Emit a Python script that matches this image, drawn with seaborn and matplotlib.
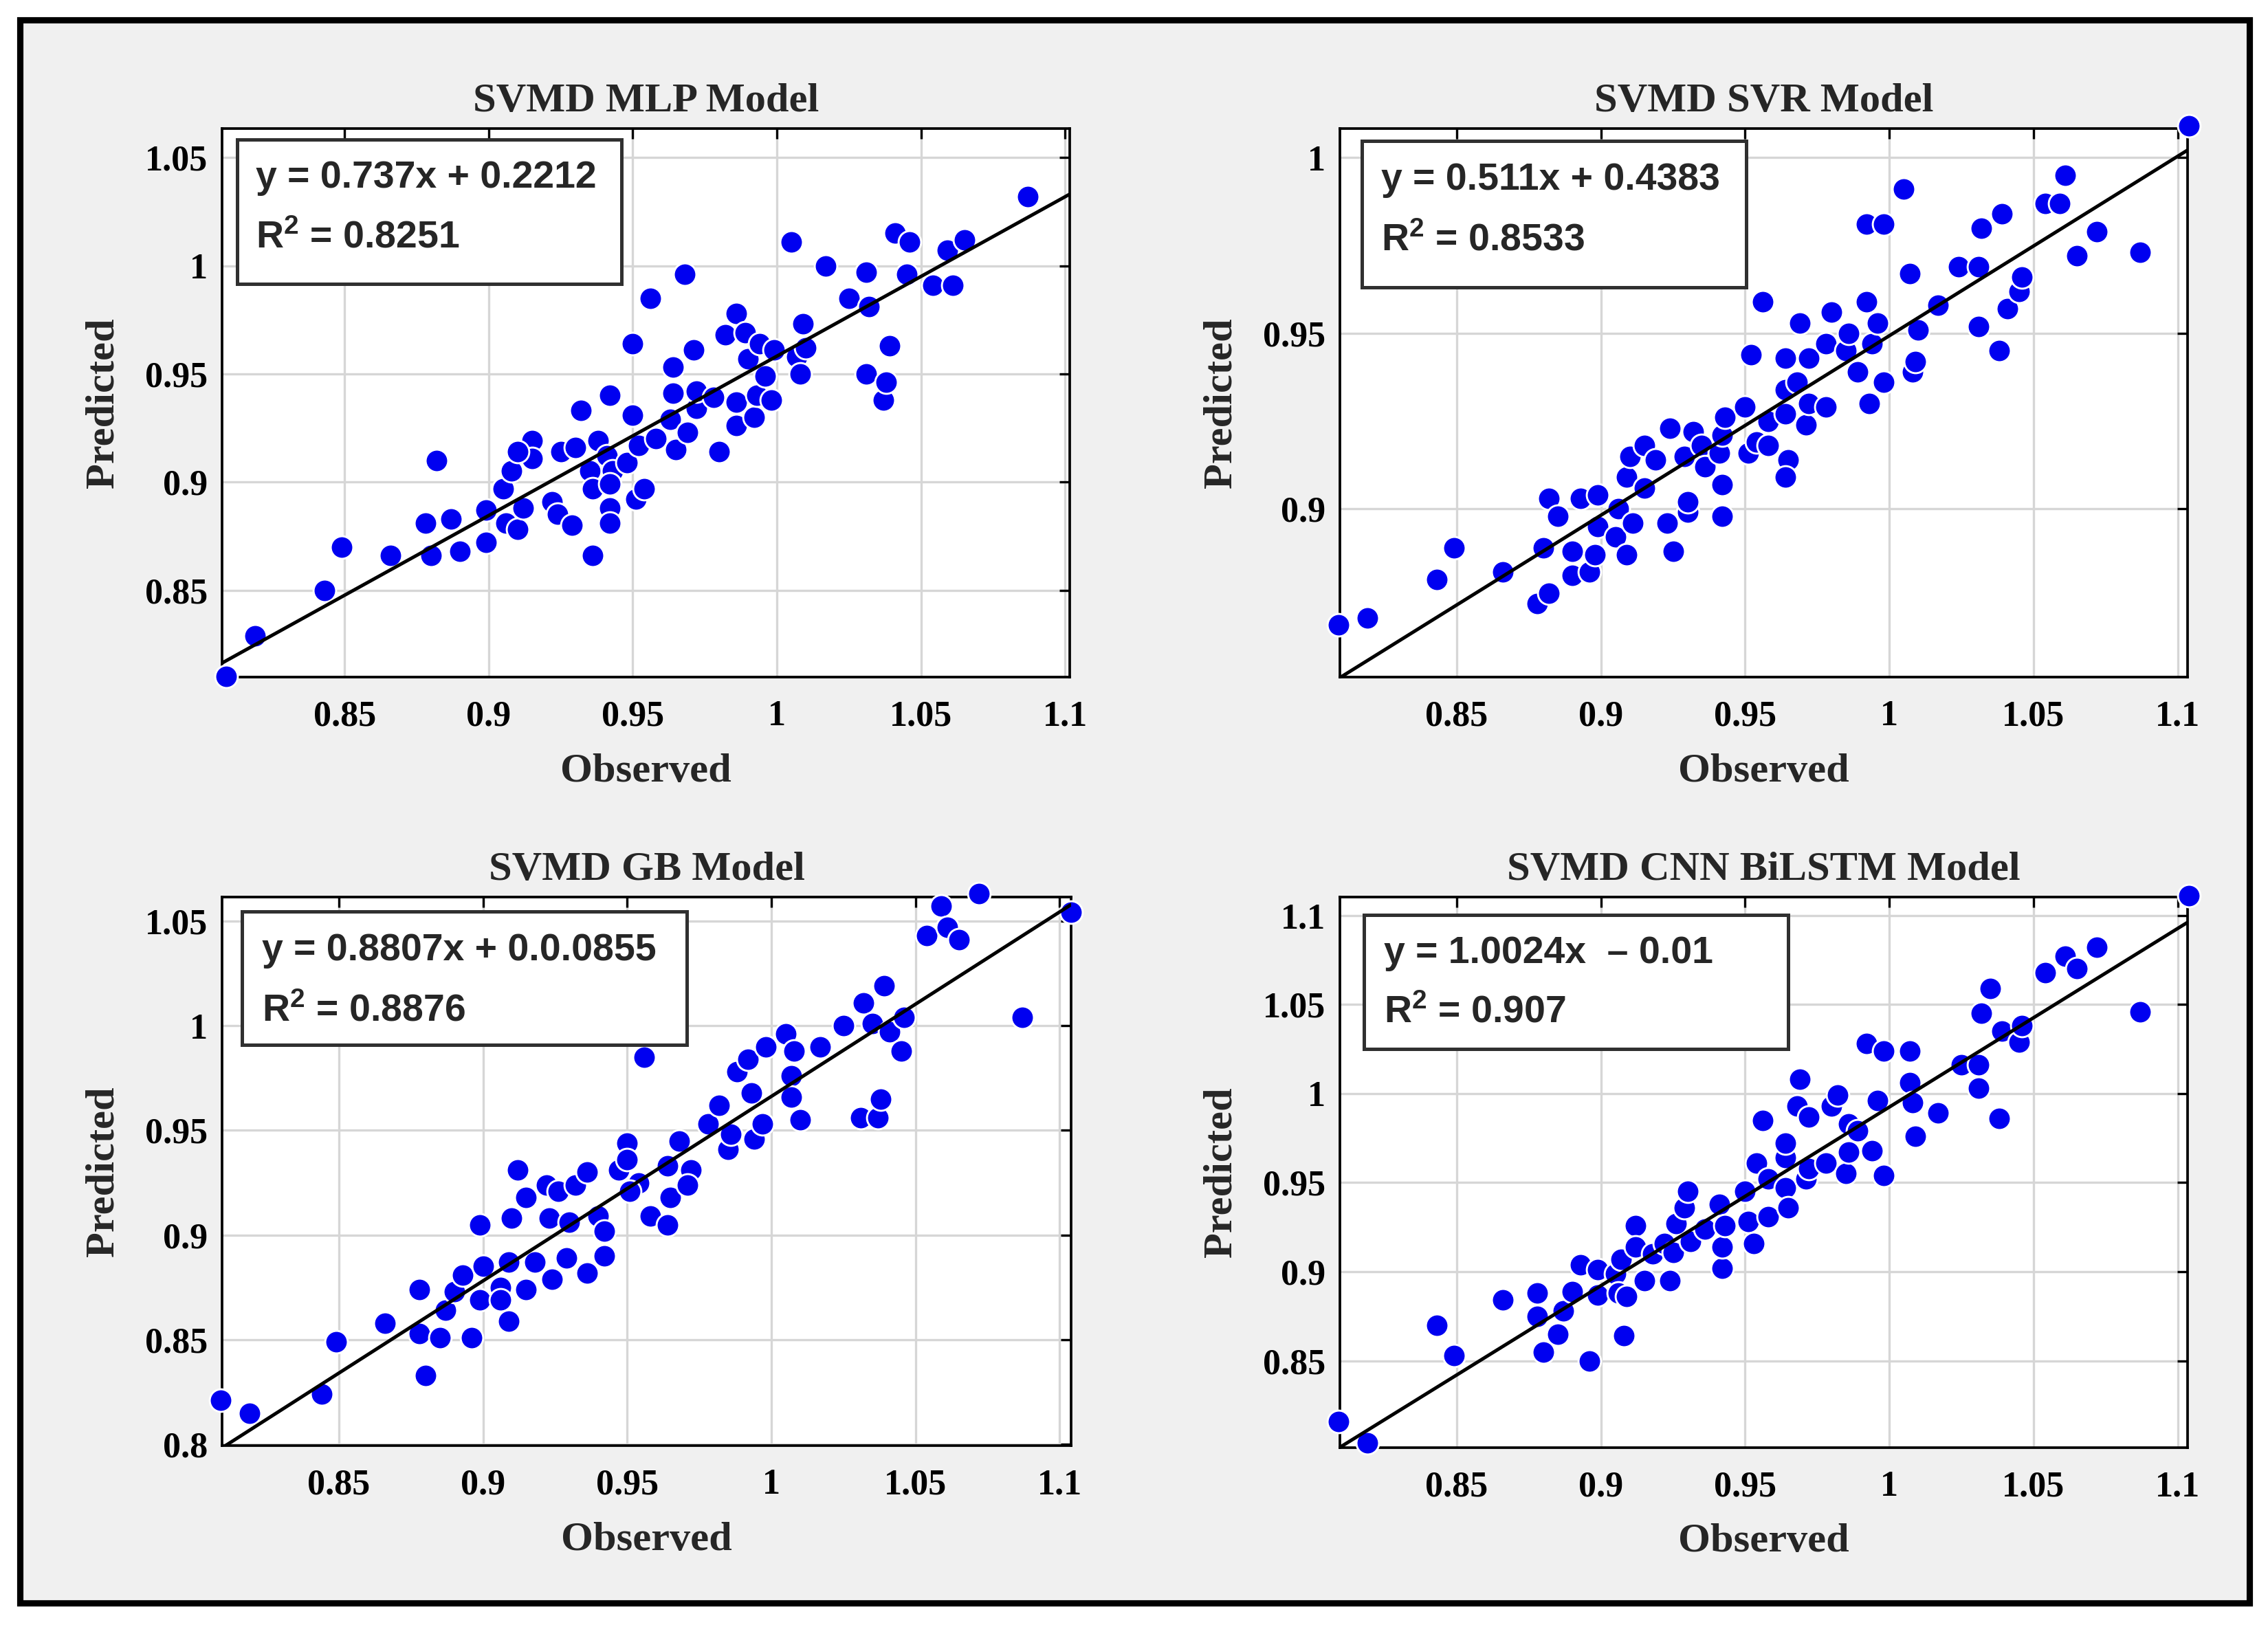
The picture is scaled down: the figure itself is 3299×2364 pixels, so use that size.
import numpy as np
import matplotlib.pyplot as plt
import seaborn as sns
from matplotlib.patches import Rectangle

sns.set_style('white')
plt.rcParams['font.family'] = ['Liberation Serif', 'DejaVu Serif']
plt.rcParams['font.weight'] = 'bold'
plt.rcParams['mathtext.default'] = 'regular'

######################################## Data ########################################

titles = ['SVMD MLP Model', 'SVMD SVR Model', 'SVMD GB Model', 'SVMD CNN BiLSTM Model']
slopes = [0.737, 0.511, 0.8807, 1.0024]
intercepts = [0.2212, 0.4383, 0.0855, -0.01]
eq_labels = ['y = 0.737x + 0.2212', 'y = 0.511x + 0.4383',
             'y = 0.8807x + 0.0.0855', 'y = 1.0024x  \u2013 0.01']
r2_labels = ['0.8251', '0.8533', '0.8876', '0.907']

x_ticks = [0.85, 0.9, 0.95, 1, 1.05, 1.1]
y_ticks = [[0.85, 0.9, 0.95, 1, 1.05],
           [0.9, 0.95, 1],
           [0.8, 0.85, 0.9, 0.95, 1, 1.05],
           [0.85, 0.9, 0.95, 1, 1.05, 1.1]]
x_limits = [(0.8075, 1.1016), (0.8095, 1.1034), (0.8095, 1.104), (0.8095, 1.1034)]
y_limits = [(0.8098, 1.0634), (0.8521, 1.0083), (0.7995, 1.0614), (0.8013, 1.1103)]

mlp_obs = [0.809, 0.819, 0.843, 0.849, 0.866, 0.878, 0.880, 0.882, 0.887, 0.890,
           0.899, 0.899, 0.905, 0.906, 0.908, 0.910, 0.912, 0.915, 0.915, 0.910,
           0.922, 0.924, 0.925, 0.929, 0.930, 0.932, 0.935, 0.938, 0.936, 0.936,
           0.941, 0.943, 0.942, 0.942, 0.942, 0.942, 0.948, 0.950, 0.950, 0.951,
           0.954, 0.952, 0.956, 0.958, 0.963, 0.964, 0.964, 0.965, 0.968, 0.969,
           0.971, 0.972, 0.972, 0.978, 0.980, 0.982, 0.986, 0.986, 0.986, 0.989,
           0.990, 0.992, 0.993, 0.994, 0.996, 0.998, 0.999, 1.005, 1.007, 1.008,
           1.009, 1.010, 1.017, 1.025, 1.031, 1.031, 1.032, 1.037, 1.038, 1.039,
           1.041, 1.046, 1.045, 1.054, 1.059, 1.061, 1.065, 1.087]
mlp_pred = [0.810, 0.829, 0.850, 0.870, 0.866, 0.881, 0.866, 0.910, 0.883, 0.868,
            0.872, 0.887, 0.897, 0.881, 0.905, 0.878, 0.888, 0.919, 0.911, 0.914,
            0.891, 0.885, 0.914, 0.880, 0.916, 0.933, 0.905, 0.919, 0.897, 0.866,
            0.912, 0.905, 0.899, 0.888, 0.881, 0.940, 0.909, 0.931, 0.964, 0.892,
            0.897, 0.917, 0.985, 0.920, 0.929, 0.941, 0.953, 0.915, 0.996, 0.923,
            0.961, 0.934, 0.942, 0.939, 0.914, 0.968, 0.926, 0.937, 0.978, 0.969,
            0.957, 0.930, 0.940, 0.964, 0.949, 0.938, 0.961, 1.011, 0.958, 0.950,
            0.973, 0.962, 1.000, 0.985, 0.997, 0.950, 0.981, 0.938, 0.946, 0.963,
            1.015, 1.011, 0.996, 0.991, 1.007, 0.991, 1.012, 1.032]

svr_obs = [0.809, 0.819, 0.843, 0.849, 0.866, 0.878, 0.882, 0.880, 0.882, 0.885,
           0.890, 0.890, 0.893, 0.896, 0.898, 0.899, 0.899, 0.905, 0.906, 0.909,
           0.911, 0.909, 0.910, 0.915, 0.915, 0.919, 0.923, 0.924, 0.925, 0.929,
           0.930, 0.930, 0.932, 0.935, 0.936, 0.941, 0.942, 0.942, 0.942, 0.943,
           0.950, 0.951, 0.952, 0.954, 0.956, 0.958, 0.958, 0.964, 0.964, 0.964,
           0.965, 0.964, 0.968, 0.969, 0.971, 0.972, 0.972, 0.978, 0.978, 0.980,
           0.985, 0.986, 0.989, 0.992, 0.992, 0.993, 0.994, 0.996, 0.998, 0.998,
           1.005, 1.007, 1.008, 1.009, 1.010, 1.017, 1.024, 1.031, 1.031, 1.032,
           1.039, 1.038, 1.041, 1.045, 1.046, 1.054, 1.059, 1.061, 1.065, 1.072,
           1.087, 1.104]
svr_pred = [0.867, 0.869, 0.880, 0.889, 0.882, 0.873, 0.876, 0.889, 0.903, 0.898,
            0.888, 0.881, 0.903, 0.882, 0.887, 0.904, 0.895, 0.892, 0.900, 0.887,
            0.896, 0.909, 0.915, 0.918, 0.906, 0.914, 0.896, 0.923, 0.888, 0.915,
            0.899, 0.902, 0.922, 0.918, 0.912, 0.916, 0.921, 0.907, 0.898, 0.926,
            0.929, 0.916, 0.944, 0.919, 0.959, 0.925, 0.918, 0.927, 0.943, 0.934,
            0.914, 0.909, 0.936, 0.953, 0.924, 0.943, 0.930, 0.947, 0.929, 0.956,
            0.945, 0.950, 0.939, 0.981, 0.959, 0.930, 0.947, 0.953, 0.981, 0.936,
            0.991, 0.967, 0.939, 0.942, 0.951, 0.958, 0.969, 0.969, 0.952, 0.980,
            0.984, 0.945, 0.957, 0.962, 0.966, 0.987, 0.987, 0.995, 0.972, 0.979,
            0.973, 1.009]

gb_obs = [0.809, 0.819, 0.844, 0.849, 0.866, 0.878, 0.880, 0.878, 0.885, 0.887,
          0.890, 0.893, 0.896, 0.899, 0.900, 0.899, 0.906, 0.906, 0.909, 0.909,
          0.910, 0.912, 0.915, 0.915, 0.918, 0.922, 0.923, 0.924, 0.926, 0.929,
          0.930, 0.932, 0.936, 0.936, 0.940, 0.942, 0.942, 0.947, 0.950, 0.950,
          0.956, 0.954, 0.951, 0.958, 0.964, 0.965, 0.964, 0.968, 0.972, 0.971,
          0.978, 0.982, 0.985, 0.986, 0.988, 0.992, 0.993, 0.994, 0.997, 0.998,
          1.005, 1.008, 1.007, 1.007, 1.010, 1.017, 1.025, 1.032, 1.035, 1.031,
          1.037, 1.038, 1.039, 1.041, 1.045, 1.046, 1.054, 1.059, 1.061, 1.065,
          1.072, 1.087, 1.104]
gb_pred = [0.821, 0.815, 0.824, 0.849, 0.858, 0.874, 0.833, 0.853, 0.851, 0.864,
           0.873, 0.881, 0.851, 0.869, 0.885, 0.905, 0.875, 0.869, 0.859, 0.887,
           0.908, 0.931, 0.874, 0.918, 0.887, 0.924, 0.908, 0.879, 0.921, 0.889,
           0.906, 0.924, 0.930, 0.882, 0.909, 0.902, 0.890, 0.931, 0.944, 0.936,
           0.985, 0.925, 0.921, 0.909, 0.905, 0.918, 0.933, 0.945, 0.931, 0.924,
           0.953, 0.962, 0.941, 0.948, 0.978, 0.984, 0.968, 0.946, 0.953, 0.990,
           0.996, 0.988, 0.976, 0.966, 0.955, 0.990, 1.000, 1.011, 1.001, 0.956,
           0.956, 0.965, 1.019, 0.997, 0.988, 1.004, 1.043, 1.057, 1.047, 1.041,
           1.063, 1.004, 1.054]

cnn_obs = [0.809, 0.819, 0.843, 0.849, 0.866, 0.878, 0.878, 0.880, 0.885, 0.887,
           0.890, 0.893, 0.896, 0.899, 0.899, 0.905, 0.906, 0.907, 0.908, 0.909,
           0.912, 0.912, 0.915, 0.918, 0.922, 0.924, 0.925, 0.926, 0.929, 0.930,
           0.931, 0.936, 0.941, 0.942, 0.942, 0.943, 0.950, 0.951, 0.953, 0.954,
           0.956, 0.958, 0.958, 0.964, 0.964, 0.964, 0.965, 0.968, 0.969, 0.971,
           0.972, 0.972, 0.978, 0.980, 0.982, 0.985, 0.986, 0.986, 0.989, 0.994,
           0.996, 0.992, 0.998, 0.998, 1.007, 1.007, 1.008, 1.009, 1.017, 1.025,
           1.031, 1.031, 1.032, 1.035, 1.038, 1.039, 1.045, 1.046, 1.054, 1.061,
           1.065, 1.072, 1.087, 1.104]
cnn_pred = [0.816, 0.804, 0.870, 0.853, 0.884, 0.888, 0.875, 0.855, 0.865, 0.878,
            0.889, 0.904, 0.850, 0.887, 0.901, 0.899, 0.888, 0.907, 0.864, 0.886,
            0.926, 0.914, 0.895, 0.910, 0.916, 0.895, 0.911, 0.927, 0.936, 0.945,
            0.917, 0.924, 0.938, 0.902, 0.914, 0.926, 0.945, 0.928, 0.916, 0.961,
            0.985, 0.952, 0.931, 0.947, 0.964, 0.972, 0.936, 0.993, 1.008, 0.952,
            0.958, 0.987, 0.961, 0.993, 0.999, 0.955, 0.967, 0.983, 0.979, 0.968,
            0.996, 1.028, 1.024, 0.954, 1.024, 1.006, 0.995, 0.976, 0.989, 1.016,
            1.016, 1.003, 1.045, 1.059, 0.986, 1.035, 1.029, 1.038, 1.068, 1.077,
            1.070, 1.082, 1.046, 1.111]

observed = [mlp_obs, svr_obs, gb_obs, cnn_obs]
predicted = [mlp_pred, svr_pred, gb_pred, cnn_pred]

######################################## Layout ########################################

# axes rectangles in figure fraction (left, bottom, width, height)
ax_rects = [(0.0979, 0.5833, 0.3738, 0.3376),
            (0.5908, 0.5833, 0.3737, 0.3376),
            (0.0979, 0.1104, 0.3744, 0.3376),
            (0.5908, 0.1092, 0.3737, 0.3388)]
# equation boxes in axes fraction
box_rects = [(0.018, 0.717, 0.453, 0.263),
             (0.026, 0.711, 0.453, 0.267),
             (0.0235, 0.730, 0.5235, 0.243),
             (0.028, 0.724, 0.501, 0.243)]
text_x = [0.040, 0.049, 0.047, 0.052]
text_y = [(0.910, 0.800), (0.906, 0.795), (0.902, 0.791), (0.898, 0.789)]

fig = plt.figure(figsize=(3299 / 300, 2364 / 300), dpi=300)
fig.patch.set_facecolor('white')
fig.add_artist(Rectangle((0.0088, 0.0135), 0.983, 0.9742, transform=fig.transFigure,
                         facecolor='#f0f0f0', edgecolor='black', linewidth=2.2, zorder=-1))

for i in range(4):
    ax = fig.add_axes(ax_rects[i])
    ax.set_facecolor('white')

    sns.scatterplot(x=observed[i], y=predicted[i], ax=ax, color='#0000f0', s=62,
                    edgecolor='white', linewidth=0.7, clip_on=False, zorder=3)

    # Fitted regression line across the axis range
    xs = np.array(x_limits[i])
    ax.plot(xs, slopes[i] * xs + intercepts[i], color='black', linewidth=1.2, zorder=4)

    ax.set_xlim(x_limits[i])
    ax.set_ylim(y_limits[i])
    ax.set_xticks(x_ticks)
    ax.set_yticks(y_ticks[i])
    ax.set_xticklabels(['%g' % v for v in x_ticks])
    ax.set_yticklabels(['%g' % v for v in y_ticks[i]])

    ax.grid(True, color='#d6d6d6', linewidth=0.8)
    ax.set_axisbelow(True)
    ax.tick_params(direction='in', length=3.5, width=0.8, top=True, right=True,
                   labelsize=12.5, colors='black')
    ax.tick_params(axis='x', pad=8)
    ax.tick_params(axis='y', pad=5)
    for sp in ax.spines.values():
        sp.set_color('black')
        sp.set_linewidth(0.9)

    ax.set_title(titles[i], fontsize=14.5, fontweight='bold', pad=6)
    ax.set_xlabel('Observed', fontsize=14.5, fontweight='bold', labelpad=7)
    ax.set_ylabel('Predicted', fontsize=14.5, fontweight='bold', labelpad=8)

    # Equation box
    bx, by, bw, bh = box_rects[i]
    ax.add_patch(Rectangle((bx, by), bw, bh, transform=ax.transAxes, facecolor='white',
                           edgecolor='#303030', linewidth=1.2, zorder=5))
    ax.text(text_x[i], text_y[i][0], eq_labels[i], transform=ax.transAxes, va='center',
            ha='left', fontsize=13.3, fontweight='bold', family=['Liberation Sans', 'DejaVu Sans'],
            zorder=6)
    ax.text(text_x[i], text_y[i][1], 'R$^2$ = ' + r2_labels[i], transform=ax.transAxes,
            va='center', ha='left', fontsize=13.3, fontweight='bold',
            family=['Liberation Sans', 'DejaVu Sans'], zorder=6)

plt.savefig('out.png', dpi=300)
